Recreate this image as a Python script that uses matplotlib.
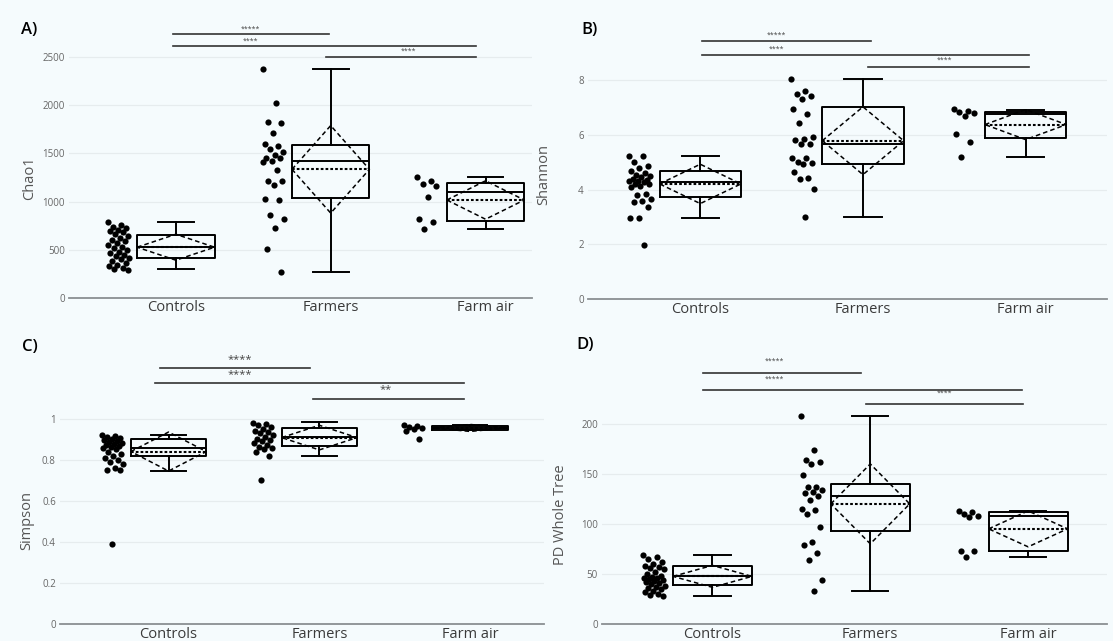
import numpy as np
import matplotlib.pyplot as plt

plt.rcParams['font.family'] = ['Open Sans', 'DejaVu Sans']

groups = ['Controls', 'Farmers', 'Farm air']

# Chao1 raw values
chao1_controls = [787, 760, 740, 722, 705, 690, 680, 662, 640, 622, 605, 585, 565, 548, 530,
                  512, 498, 480, 462, 445, 430, 415, 398, 380, 362, 345, 325, 312, 300, 290]
chao1_farmers = [2378, 2028, 1830, 1813, 1709, 1595, 1578, 1546, 1519, 1487, 1449, 1449, 1421,
                 1408, 1324, 1213, 1213, 1168, 1023, 1016, 863, 822, 721, 503, 270]
chao1_farmair = [1252, 1213, 1182, 1161, 1045, 815, 790, 714]
chao1_q1 = [409, 1033, 801]
chao1_med = [523, 1421, 1102]
chao1_q3 = [648, 1584, 1196]
chao1_lo = [295, 270, 714]
chao1_hi = [787, 2378, 1252]
chao1_mean = [525, 1335, 1016]
chao1_sd = [135, 455, 200]

# Shannon
shannon_controls = [5.23, 5.23, 5.0, 4.85, 4.8, 4.7, 4.62, 4.55, 4.5, 4.45, 4.4, 4.35, 4.32, 4.3,
                    4.27, 4.22, 4.2, 4.15, 4.1, 3.85, 3.8, 3.65, 3.6, 3.55, 3.35, 2.95, 2.95, 1.97]
shannon_farmers = [8.05, 7.61, 7.49, 7.44, 7.32, 6.94, 6.78, 6.44, 5.94, 5.87, 5.82, 5.67, 5.67,
                   5.16, 5.16, 5.01, 4.96, 4.93, 4.65, 4.41, 4.39, 4.02, 3.0]
shannon_farmair = [6.95, 6.88, 6.85, 6.79, 6.68, 6.04, 5.76, 5.21]
shannon_q1 = [3.72, 4.95, 5.89]
shannon_med = [4.29, 5.67, 6.77]
shannon_q3 = [4.67, 7.02, 6.85]
shannon_lo = [2.95, 3.0, 5.21]
shannon_hi = [5.23, 8.05, 6.91]
shannon_mean = [4.21, 5.79, 6.38]
shannon_sd = [0.72, 1.24, 0.55]

# Simpson
simpson_controls = [0.92, 0.915, 0.91, 0.905, 0.9, 0.895, 0.89, 0.885, 0.88, 0.875, 0.87, 0.865,
                    0.86, 0.855, 0.85, 0.84, 0.83, 0.82, 0.81, 0.8, 0.79, 0.78, 0.76, 0.75, 0.75, 0.39]
simpson_farmers = [0.98, 0.975, 0.97, 0.96, 0.95, 0.94, 0.935, 0.93, 0.92, 0.91, 0.9, 0.895, 0.89,
                   0.88, 0.87, 0.86, 0.855, 0.85, 0.84, 0.82, 0.7]
simpson_farmair = [0.97, 0.965, 0.96, 0.955, 0.95, 0.94, 0.9]
simpson_q1 = [0.818, 0.865, 0.945]
simpson_med = [0.859, 0.911, 0.956]
simpson_q3 = [0.901, 0.956, 0.964]
simpson_lo = [0.746, 0.82, 0.945]
simpson_hi = [0.919, 0.984, 0.968]
simpson_mean = [0.84, 0.908, 0.955]
simpson_sd = [0.095, 0.06, 0.017]

# PD whole tree
pd_controls = [69, 67, 65, 62, 60, 58, 57, 56, 55, 52, 50, 48, 47, 46, 46, 45, 44, 43, 42, 41,
               40, 38, 37, 36, 35, 33, 32, 30, 29, 28]
pd_farmers = [208, 174, 164, 162, 160, 149, 137, 137, 134, 132, 131, 128, 124, 115, 114, 110,
              97, 82, 79, 71, 64, 44, 33]
pd_farmair = [113, 112, 110, 108, 107, 73, 73, 67]
pd_q1 = [38.7, 93.3, 73.3]
pd_med = [47.7, 128.3, 107.7]
pd_q3 = [58, 140, 111.7]
pd_lo = [28.3, 32.7, 67]
pd_hi = [68.7, 208.3, 112.7]
pd_mean = [47.7, 120.3, 95.3]
pd_sd = [11, 40, 18]

panels = [
    dict(tag='A)', ylabel='Chao1', pts=[chao1_controls, chao1_farmers, chao1_farmair],
         q1=chao1_q1, med=chao1_med, q3=chao1_q3, lo=chao1_lo, hi=chao1_hi, mean=chao1_mean, sd=chao1_sd,
         ticks=[0, 500, 1000, 1500, 2000, 2500],
         px=(69, 532, 297.7, 57.3, 2500, 18), xlim=(-0.69, 2.30),
         sig=[(-0.02, 0.99, 2739, 2791, 0.48, '*****'), (-0.02, 1.94, 2618, 2666, 0.48, '****'),
              (0.97, 1.94, 2503, 2558, 1.5, '****')], sigsize=5,
         tagpos=(21, 30), ylabpos=(30, 178)),
    dict(tag='B)', ylabel='Shannon', pts=[shannon_controls, shannon_farmers, shannon_farmair],
         q1=shannon_q1, med=shannon_med, q3=shannon_q3, lo=shannon_lo, hi=shannon_hi, mean=shannon_mean,
         sd=shannon_sd, ticks=[0, 2, 4, 6, 8],
         px=(588, 1107, 299, 80.3, 8, 18), xlim=(-0.69, 2.50),
         sig=[(0.01, 1.05, 9.42, 9.64, 0.47, '*****'), (0.01, 2.02, 8.93, 9.15, 0.47, '****'),
              (1.03, 2.02, 8.50, 8.72, 1.5, '****')], sigsize=5,
         tagpos=(581, 30), ylabpos=(544, 175)),
    dict(tag='C)', ylabel='Simpson', pts=[simpson_controls, simpson_farmers, simpson_farmair],
         q1=simpson_q1, med=simpson_med, q3=simpson_q3, lo=simpson_lo, hi=simpson_hi, mean=simpson_mean,
         sd=simpson_sd, ticks=[0, 0.2, 0.4, 0.6, 0.8, 1],
         px=(60, 544, 624, 418.7, 1, 338), xlim=(-0.72, 2.49),
         sig=[(-0.06, 0.94, 1.245, 1.29, 0.47, '****'), (-0.09, 1.96, 1.172, 1.215, 0.47, '****'),
              (0.96, 1.96, 1.095, 1.14, 1.44, '**')], sigsize=8,
         tagpos=(22, 347), ylabpos=(27, 520)),
    dict(tag='D)', ylabel='PD Whole Tree', pts=[pd_controls, pd_farmers, pd_farmair],
         q1=pd_q1, med=pd_med, q3=pd_q3, lo=pd_lo, hi=pd_hi, mean=pd_mean, sd=pd_sd,
         ticks=[0, 50, 100, 150, 200],
         px=(602, 1107, 624, 424.3, 200, 338), xlim=(-0.70, 2.50),
         sig=[(-0.06, 0.94, 251.7, 263, 0.39, '*****'), (-0.06, 1.96, 234, 245, 0.39, '*****'),
              (0.97, 1.97, 220.7, 231, 1.47, '****')], sigsize=5,
         tagpos=(576, 345), ylabpos=(561, 515)),
]

W, H = 1113, 641
bg = '#f5fbfd'
fig = plt.figure(figsize=(W / 100, H / 100), dpi=100, facecolor=bg)

half = 0.25
for p in panels:
    x0, x1, y0, yt, tval, ytop = p['px']
    top_val = tval * (y0 - ytop) / (y0 - yt)
    ax = fig.add_axes([x0 / W, (H - y0) / H, (x1 - x0) / W, (y0 - ytop) / H])
    ax.set_facecolor('none')
    ax.set_xlim(*p['xlim'])
    ax.set_ylim(0, top_val)
    for s in ['top', 'right', 'left']:
        ax.spines[s].set_visible(False)
    ax.spines['bottom'].set_color('#8a8f92')
    ax.spines['bottom'].set_linewidth(1.3)
    ax.set_yticks(p['ticks'])
    ax.set_yticklabels([('%g' % t) for t in p['ticks']], fontsize=7, color='#666666')
    ax.set_xticks(range(3))
    ax.set_xticklabels(groups, fontsize=10.5, color='#3a3a3a')
    ax.tick_params(length=0, pad=3)
    ax.tick_params(axis='x', pad=2)
    for t in p['ticks'][1:]:
        ax.axhline(t, color='#e6ecee', lw=0.9, zorder=0)

    stats = []
    for i in range(3):
        stats.append(dict(med=p['med'][i], q1=p['q1'][i], q3=p['q3'][i],
                          whislo=p['lo'][i], whishi=p['hi'][i], mean=p['mean'][i], fliers=[]))
    ax.bxp(stats, positions=range(3), widths=0.5, capwidths=0.23, showmeans=True, meanline=True,
           boxprops=dict(color='black', lw=1.4), whiskerprops=dict(color='black', lw=1.4),
           capprops=dict(color='black', lw=1.4), medianprops=dict(color='black', lw=1.4),
           meanprops=dict(color='black', lw=1.5, linestyle=(0, (1.3, 1.0))),
           manage_ticks=False)

    # mean +/- sd diamond
    for i in range(3):
        m, s = p['mean'][i], p['sd'][i]
        ax.plot([i - half, i, i + half, i, i - half], [m, m + s, m, m - s, m],
                color='black', lw=1.1, linestyle=(0, (3, 2)), zorder=3)

    # jittered raw points to the left of each box
    for i, vals in enumerate(p['pts']):
        n = len(vals)
        jit = ((np.arange(n) * 0.618) % 1 - 0.5) * 0.14
        ax.scatter(i - 0.37 + jit, vals, s=20, color='black', zorder=4, linewidths=0)

    # significance brackets
    for a, b, yl, ytxt, xt, lab in p['sig']:
        ax.plot([a, b], [yl, yl], color='#333333', lw=1.2, clip_on=False)
        ax.text(xt, ytxt, lab, ha='center', va='center', fontsize=p['sigsize'],
                color='#444444', clip_on=False)

    fig.text(p['tagpos'][0] / W, 1 - p['tagpos'][1] / H, p['tag'], fontsize=12,
             fontweight='semibold', ha='left', va='center')
    fig.text(p['ylabpos'][0] / W, 1 - p['ylabpos'][1] / H, p['ylabel'], fontsize=10.5,
             color='#555555', rotation=90, ha='center', va='center')

fig.savefig('out.png', dpi=100, facecolor=bg)
